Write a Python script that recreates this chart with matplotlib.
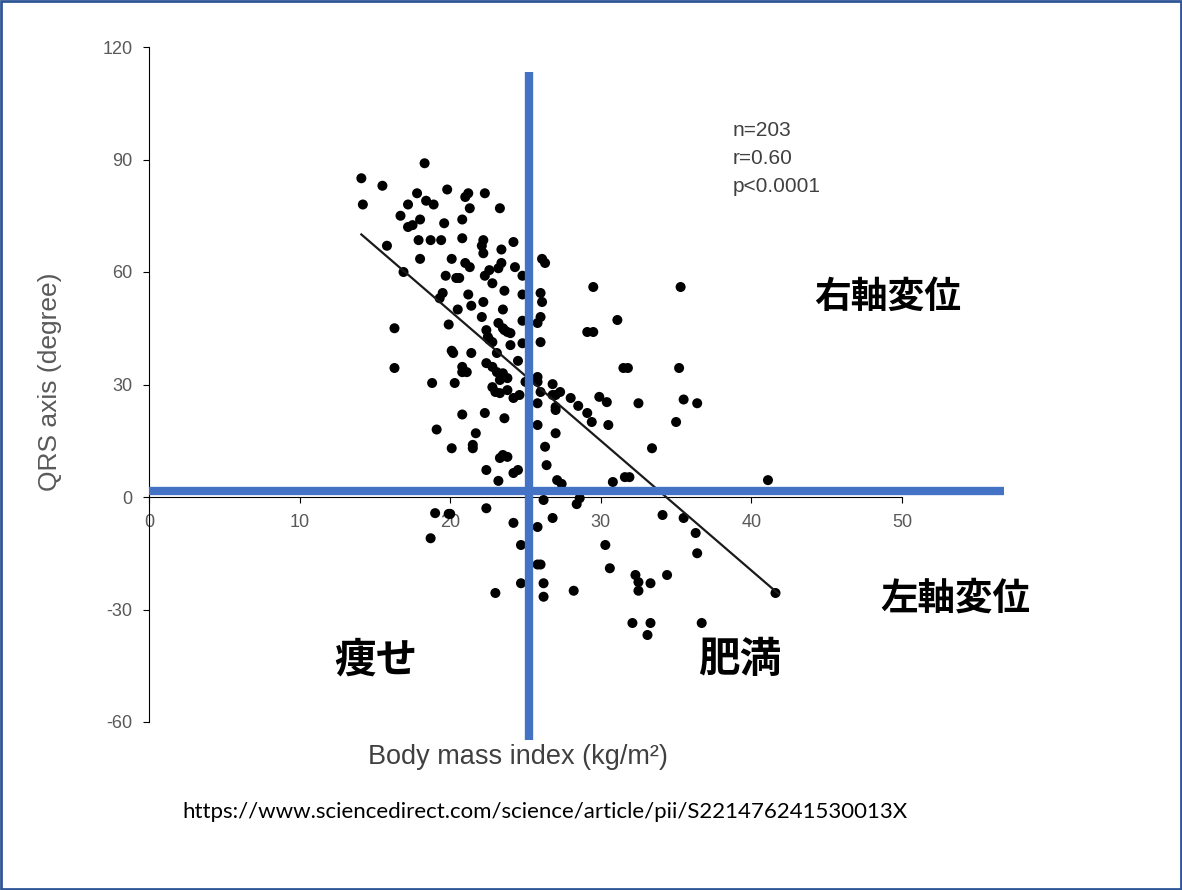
import matplotlib
matplotlib.use("Agg")
import matplotlib.pyplot as plt
from matplotlib.patches import Rectangle

# --- datos (BMI vs eje QRS) ---
bmi = [18.3, 14.1, 15.5, 14.2, 17.8, 19.8, 21.2, 21.0, 22.3, 18.4,
       18.9, 17.2, 21.3, 23.3, 16.7, 18.0, 17.5, 17.2, 19.6, 20.8,
       20.8, 17.9, 18.7, 19.4, 22.2, 22.1, 22.2, 24.2, 23.4, 15.8,
       18.0, 20.1, 21.0, 21.3, 23.4, 23.2, 22.6, 22.3, 24.3, 24.8,
       16.9, 19.7, 20.4, 20.6, 22.8, 23.6, 24.8, 21.2, 19.3, 19.5,
       21.4, 22.2, 23.5, 20.5, 22.1, 19.9, 16.3, 23.2, 23.5, 16.3,
       20.1, 20.2, 21.4, 22.4, 23.8, 22.5, 22.8, 24.0, 24.8, 23.1,
       24.5, 22.4, 22.8, 23.1, 23.5, 23.8, 23.3, 20.8, 21.1, 20.8,
       18.8, 20.3, 22.8, 23.0, 23.3, 23.8, 24.2, 24.6, 25.0, 20.8,
       22.3, 23.6, 19.1, 21.7, 21.5, 21.5, 20.1, 23.5, 23.3, 23.8,
       22.4, 24.2, 24.5, 23.2, 22.4, 19.0, 19.9, 20.0, 27.4, 30.8,
       26.2, 28.6, 28.4, 24.2, 26.8, 25.8, 18.7, 24.7, 30.3, 25.8,
       26.0, 30.6, 24.7, 26.2, 28.2, 23.0, 26.2, 26.1, 26.3, 29.5,
       35.3, 26.0, 26.1, 31.1, 24.8, 26.0, 25.8, 29.1, 29.5, 26.0,
       31.5, 31.8, 35.2, 25.8, 25.8, 26.8, 27.3, 27.0, 28.0, 28.5,
       29.9, 30.4, 32.5, 35.5, 36.4, 25.8, 27.0, 27.0, 29.1, 29.4,
       30.5, 35.0, 25.8, 27.0, 33.4, 31.6, 31.9, 41.1, 34.1, 35.5,
       36.3, 36.4, 32.3, 32.5, 32.5, 33.3, 34.4, 41.6, 32.1, 33.3,
       33.1, 36.7, 23.6, 24.0, 22.6, 26.0, 26.8, 26.3, 26.4, 27.1]
qrs = [89, 85, 83, 78, 81, 82, 81, 80, 81, 79,
       78, 78, 77, 77, 75, 74, 72.5, 72, 73, 74,
       69, 68.5, 68.5, 68.5, 68.5, 67, 65, 68, 66, 67,
       63.5, 63.5, 62.4, 61.3, 62.4, 61, 60.5, 59, 61.3, 59,
       60, 59, 58.4, 58.4, 57, 55, 54, 54, 53, 54.4,
       51, 52, 50, 50, 48, 46, 45, 46.4, 45, 34.4,
       39, 38.4, 38.4, 44.5, 44, 42.7, 41.3, 40.5, 41, 38.4,
       36.3, 35.7, 34.7, 33.3, 33, 31.7, 31.2, 34.7, 33.3, 33.3,
       30.4, 30.4, 29.3, 28, 27.7, 28.5, 26.4, 27.2, 30.7, 22,
       22.4, 21, 18, 17, 13.9, 13, 13, 11.2, 10.4, 10.7,
       7.2, 6.4, 7.2, 4.3, -3, -4.3, -4.5, -4.5, 3.5, 4,
       -0.8, -0.3, -1.9, -6.9, -5.6, -8, -11, -12.8, -12.8, -18,
       -18, -19, -23, -23, -25, -25.6, -26.6, 63.5, 62.4, 56,
       56, 54.4, 52, 47.2, 47, 48, 46.4, 44, 44, 41.3,
       34.4, 34.4, 34.4, 32, 30.7, 30.1, 28, 27.2, 26.4, 24.3,
       26.7, 25.3, 25, 26, 25, 25, 24, 23.2, 22.4, 20,
       19.2, 20, 19.2, 17, 13, 5.3, 5.3, 4.5, -4.8, -5.6,
       -9.6, -15, -20.8, -22.7, -25, -23, -20.8, -25.6, -33.6, -33.6,
       -36.8, -33.6, 44.5, 43.7, 41.9, 28, 27.2, 13.4, 8.5, 4.5]

# recta de regresion
fit_slope = -3.46
fit_intercept = 118.8
fit_x = [14.1, 41.8]

# lineas azules (cuadrantes)
split_bmi = 25.2
split_qrs = 1.6

x_ticks = [0, 10, 20, 30, 40, 50]
y_ticks = [-60, -30, 0, 30, 60, 90, 120]

BLUE = '#4472C4'
GRAY = '#595959'


def set_style():
    plt.rcParams.update({
        'font.family': ['Liberation Sans', 'DejaVu Sans'],
        'font.size': 12,
        'axes.unicode_minus': False,
        'figure.facecolor': 'white',
        'axes.facecolor': 'white',
    })


def main():
    set_style()
    fig = plt.figure(figsize=(11.82, 8.90), dpi=100)
    ax = fig.add_axes([149 / 1182, 168 / 890, 753 / 1182, 675 / 890])

    ax.scatter(bmi, qrs, s=52, color='black', edgecolors='none', zorder=3)

    fx = fit_x
    fy = [fit_slope * v + fit_intercept for v in fx]
    ax.plot(fx, fy, color='#1a1a1a', lw=1.6, zorder=4)

    # lineas azules gruesas, salen fuera del eje
    ax.plot([0, 56.8], [split_qrs, split_qrs], color=BLUE, lw=6,
            clip_on=False, zorder=5, solid_capstyle='butt')
    ax.plot([split_bmi, split_bmi], [113.3, -64.8], color=BLUE, lw=6,
            clip_on=False, zorder=5, solid_capstyle='butt')

    ax.set_xlim(0, 50)
    ax.set_ylim(-60, 120)
    ax.set_xticks(x_ticks)
    ax.set_yticks(y_ticks)
    ax.spines['top'].set_visible(False)
    ax.spines['right'].set_visible(False)
    ax.spines['bottom'].set_position(('data', 0))
    ax.spines['left'].set_color('black')
    ax.spines['bottom'].set_color('black')
    ax.tick_params(axis='both', colors='black', labelcolor=GRAY,
                   labelsize=13, length=4, direction='out')
    ax.tick_params(axis='x', pad=8)
    ax.tick_params(axis='y', pad=8)

    fig.text(50 / 1182, 1 - 382 / 890, 'QRS axis (degree)', rotation=90,
             ha='center', va='center', fontsize=19, color=GRAY)
    fig.text(518 / 1182, 1 - 757 / 890, 'Body mass index (kg/m²)',
             ha='center', va='center', fontsize=19.5, color='#404040')

    fig.text(733 / 1182, 1 - 130 / 890, 'n=203', ha='left', va='center',
             fontsize=15, color='#404040')
    fig.text(733 / 1182, 1 - 158 / 890, 'r=0.60', ha='left', va='center',
             fontsize=15, color='#404040')
    fig.text(733 / 1182, 1 - 186 / 890, 'p<0.0001', ha='left', va='center',
             fontsize=15, color='#404040')

    jp = ['Noto Sans CJK JP', 'DejaVu Sans']
    fig.text(888 / 1182, 1 - 297 / 890, '右軸変位', ha='center', va='center',
             fontsize=26.5, fontweight='bold', family=jp)
    fig.text(955 / 1182, 1 - 598 / 890, '左軸変位', ha='center', va='center',
             fontsize=27, fontweight='bold', family=jp)
    fig.text(376 / 1182, 1 - 660 / 890, '痩せ', ha='center', va='center',
             fontsize=30, fontweight='bold', family=jp)
    fig.text(740 / 1182, 1 - 660 / 890, '肥満', ha='center', va='center',
             fontsize=30, fontweight='bold', family=jp)

    fig.text(545 / 1182, 1 - 812 / 890,
             'https://www.sciencedirect.com/science/article/pii/S221476241530013X',
             ha='center', va='center', fontsize=16, color='black',
             family=['Lato', 'DejaVu Sans'])

    # marco azul alrededor de la figura
    fig.patches.append(Rectangle((0.001, 0.001), 0.998, 0.998,
                                 transform=fig.transFigure, fill=False,
                                 edgecolor='#2F5597', lw=2))

    fig.savefig('out.png', dpi=100)


if __name__ == "__main__":
    main()
